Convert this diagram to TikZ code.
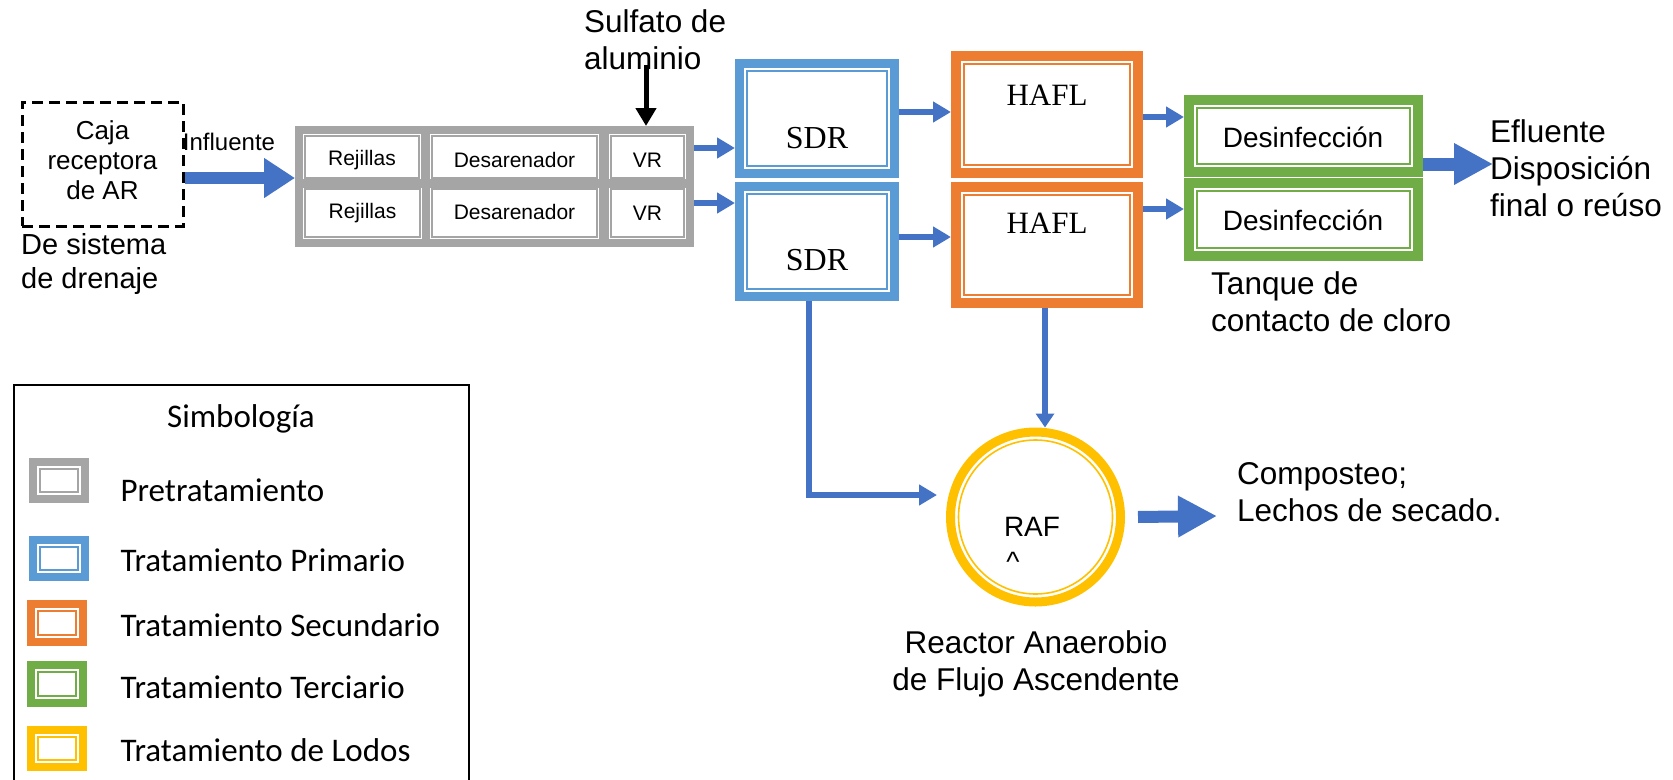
\documentclass[tikz,border=0pt]{standalone}
\usepackage{fontspec}
\setmainfont{Liberation Sans}
\newfontfamily\serifont{Liberation Serif}
\newfontfamily\calfont{Carlito}
\usetikzlibrary{arrows.meta,calc}
\definecolor{cgray}{HTML}{A5A5A5}
\definecolor{cblue}{HTML}{5B9BD5}
\definecolor{corange}{HTML}{ED7D31}
\definecolor{cgreen}{HTML}{70AD47}
\definecolor{cyellow}{HTML}{FFC000}
\definecolor{carrow}{HTML}{4472C4}
% name, color, line width, x1, y1, x2, y2, inset of the thin inner line
\newcommand{\tbox}[8]{%
  \node[draw=#2, line width=#3pt, inner sep=0pt,
        minimum width={(#6-#4-#3)*1pt}, minimum height={(#7-#5-#3)*1pt}]
        (#1) at ({(#4+#6)/2},{(#5+#7)/2}) {};
  \draw[#2, line width=1.6pt] ([shift={(#8,#8)}]#1.north west) rectangle ([shift={(-#8,-#8)}]#1.south east);
}
\begin{document}
\begin{tikzpicture}[x=1pt,y=-1pt,
  fs/.style={font=\fontsize{#1}{#1}\selectfont},
  celltext/.style={font=\fontsize{21}{25}\selectfont},
  sertext/.style={font=\fontsize{32}{38}\selectfont\serifont},
  bigtext/.style={font=\fontsize{31.5}{37}\selectfont},
  legtext/.style={font=\fontsize{33}{38}\selectfont\calfont, anchor=west},
  bigarr/.style={draw=carrow, line width=12pt, -{Triangle[length=31pt,width=38pt]}},
  smallarr/.style={draw=carrow, line width=6pt, -{Triangle[length=18pt,width=20pt]}},
  dashbox/.style={draw=black, line width=3pt, dash pattern=on 11pt off 6pt}
]
\useasboundingbox (0,0) rectangle (1673,779);

% dashed reception box
\node[dashbox, inner sep=0pt, minimum width=161pt, minimum height=124pt] (caja) at (102.5,164) {};
\node[font=\fontsize{26}{30}\selectfont, align=center] (cajat) at (102.5,160) {Caja\\receptora\\de AR};
\node[font=\fontsize{29}{34}\selectfont, align=left, anchor=west, inner sep=0pt] (desist) at (21,264) {De sistema\\de drenaje};

% pretreatment cells
\tbox{rej1}{cgray}{8}{295}{126}{429}{188}{10}
\tbox{des1a}{cgray}{8}{422}{126}{607}{188}{10}
\tbox{vr1}{cgray}{8}{601}{126}{694}{188}{10}
\tbox{rej2}{cgray}{8}{295}{179}{430}{247}{10}
\tbox{des2a}{cgray}{8}{422}{179}{607}{247}{10}
\tbox{vr2}{cgray}{8}{601}{179}{694}{247}{10}
\node[celltext] (trej1) at ($(rej1)+(0,3)$) {Rejillas};
\node[celltext] (tdes1) at ($(des1a)+(0,3)$) {Desarenador};
\node[celltext] (tvr1) at ($(vr1)+(0,3)$) {VR};
\node[celltext] (trej2) at ($(rej2)+(0,0)$) {Rejillas};
\node[celltext] (tdes2) at ($(des2a)+(0,-1)$) {Desarenador};
\node[celltext] (tvr2) at ($(vr2)+(0,0)$) {VR};

% primary
\tbox{sdr1}{cblue}{9}{735}{59}{899}{178}{12}
\tbox{sdr2}{cblue}{9}{735}{182}{899}{301}{12}
\node[sertext] (tsdr1) at (817,138) {SDR};
\node[sertext] (tsdr2) at (817,260) {SDR};

% secondary
\tbox{hafl1}{corange}{10}{951}{51}{1143}{178}{13}
\tbox{hafl2}{corange}{10}{951}{182}{1143}{308}{13}
\node[font=\fontsize{31}{37}\selectfont\serifont] (thafl1) at (1047,95) {HAFL};
\node[font=\fontsize{31}{37}\selectfont\serifont] (thafl2) at (1047,223) {HAFL};

% tertiary
\tbox{dis1}{cgreen}{10}{1184}{95}{1423}{177}{13}
\tbox{dis2}{cgreen}{10}{1184}{178}{1423}{261}{13}
\node[fs=28] (tdis1) at (1303,137) {Desinfección};
\node[fs=28] (tdis2) at (1303,220) {Desinfección};

% sludge reactor
\node[circle, draw=cyellow, line width=9pt, inner sep=0pt, minimum size=170pt] (raf) at (1035.5,517) {};
\draw[cyellow, line width=1.6pt] (raf.center) circle[radius=77pt];
\node[fs=28] (raft) at (1032,527) {RAF};
\node[fs=28] (caret) at (1013,562) {\textasciicircum};

% texts
\node[fs=24] (influ) at (229,142) {Influente};
\node[bigtext, align=left, anchor=west, inner sep=0pt] (sulf) at (584,40) {Sulfato de\\aluminio};
\node[bigtext, align=left, anchor=west, inner sep=0pt] (efl) at (1490,168) {Efluente\\Disposición\\final o reúso};
\node[bigtext, align=left, anchor=west, inner sep=0pt] (tanq) at (1211,302) {Tanque de\\contacto de cloro};
\node[bigtext, align=left, anchor=west, inner sep=0pt] (comp) at (1237,492) {Composteo;\\Lechos de secado.};
\node[bigtext, align=center, inner sep=0pt] (react) at (1036,664) {Reactor Anaerobio\\de Flujo Ascendente};

% connectors
\coordinate (inpt) at (295,178);
\draw[bigarr] (caja.east |- inpt) -- (inpt);
\coordinate (sulftop) at (646,65);
\draw[black, line width=5pt, -{Triangle[length=18pt,width=20pt]}] (sulftop) -- (sulftop |- vr1.north);
\draw[smallarr] ($(vr1.east)+(0,-9)$) -- ($(sdr1.west)+(0,29.5)$);
\draw[smallarr] ($(vr2.east)+(0,-10)$) -- ($(sdr2.west)+(0,-38.5)$);
\draw[smallarr] ($(sdr1.east)+(0,-6.5)$) -- ($(hafl1.west)+(0,-2.5)$);
\draw[smallarr] ($(sdr2.east)+(0,-4.5)$) -- ($(hafl2.west)+(0,-8)$);
\draw[smallarr] ($(hafl1.east)+(0,2.5)$) -- ($(dis1.west)+(0,-19)$);
\draw[smallarr] ($(hafl2.east)+(0,-36)$) -- ($(dis2.west)+(0,-10.5)$);
\coordinate (eflend) at (1493,164);
\draw[bigarr, line width=13pt, -{Triangle[length=39pt,width=39pt]}] (dis1.east |- eflend) -- (eflend);
\draw[smallarr] ($(sdr2.south)+(-8,0)$) |- ($(raf.west)+(-9,-22)$);
\draw[smallarr, -{Triangle[length=14pt,width=18pt]}] ($(hafl2.south)+(-2,0)$) -- ($(raf.north)+(9.5,0)$);
\coordinate (compend) at (1217,516);
\draw[bigarr, -{Triangle[length=39pt,width=39pt]}] ($(raf.east)+(13,0)$) -- (compend);

% legend
\draw[black, line width=2pt] (14,800) -- (14,385) -- (469,385) -- (469,800);
\node[font=\fontsize{33}{38}\selectfont\calfont] (simb) at (241,419) {Simbología};
\tbox{lg1}{cgray}{8}{29}{458}{89}{503}{11}
\tbox{lg2}{cblue}{8}{29}{536}{89}{581}{11}
\tbox{lg3}{corange}{8}{27}{600}{87}{646}{11}
\tbox{lg4}{cgreen}{8}{27}{661}{87}{707}{11}
\tbox{lg5}{cyellow}{8}{27}{726}{87}{771}{11}
\node[legtext] (l1) at (117,490) {Pretratamiento};
\node[legtext] (l2) at (117,560) {Tratamiento Primario};
\node[legtext] (l3) at (117,625) {Tratamiento Secundario};
\node[legtext] (l4) at (117,687) {Tratamiento Terciario};
\node[legtext] (l5) at (117,750) {Tratamiento de Lodos};
\end{tikzpicture}
\end{document}
